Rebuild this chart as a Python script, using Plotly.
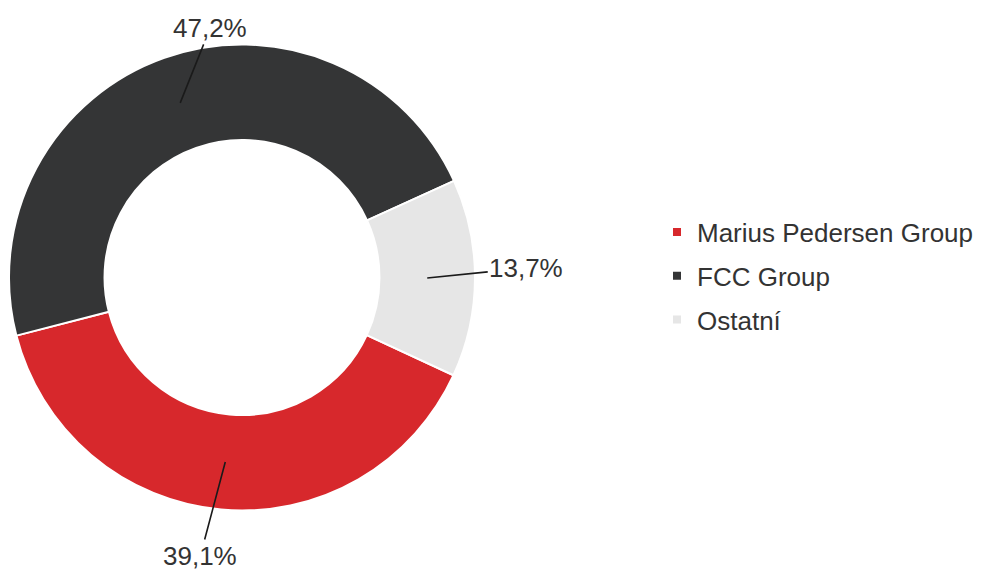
import math
import plotly.graph_objects as go

# ---- data ----
labels = ["Marius Pedersen Group", "FCC Group", "Ostatní"]
values = [39.1, 47.2, 13.7]
value_texts = ["39,1%", "47,2%", "13,7%"]
colors = ["#d7282c", "#343536", "#e6e6e6"]

# ---- layout constants ----
W, H = 983, 574
OFF = 8                       # browser body margin
ref_cx, ref_cy, ref_R = 242, 277.5, 233   # donut geometry in the reference (screen px)
cx, cy = ref_cx - OFF, ref_cy - OFF
hole = 0.59
rotation = 114.8              # first slice start (deg, clockwise from 12 o'clock)
label_offsets = [(-25, 94), (30, -75), (99, -10)]   # text offset (px) from ring point
font_family = "Liberation Sans, Arial, sans-serif"
text_color = "#333333"

fig = go.Figure()
fig.add_trace(go.Pie(
    labels=labels,
    values=values,
    hole=hole,
    sort=False,
    direction="clockwise",
    rotation=rotation,
    marker=dict(colors=colors, line=dict(color="white", width=2)),
    textinfo="none",
    hoverinfo="label+percent",
    showlegend=False,
    domain=dict(x=[(cx - ref_R) / W, (cx + ref_R) / W],
                y=[1 - (cy + ref_R) / H, 1 - (cy - ref_R) / H]),
))

# legend entries (dummy traces so spacing can be controlled)
for i, (lab, col) in enumerate(zip(labels, colors)):
    fig.add_trace(go.Scatter(
        x=[None], y=[None], mode="markers", name=lab,
        marker=dict(symbol="square", size=8, color=col),
        legendgroup=f"g{i}", showlegend=True,
    ))

# outside labels with leader lines, positioned from the data angles
r_mid = ref_R * (1 + hole) / 2
total = sum(values)
start = rotation
annotations = []
for v, t, (ox, oy) in zip(values, value_texts, label_offsets):
    span = v / total * 360
    mid = math.radians(start + span / 2)
    px = cx + r_mid * math.sin(mid)
    py = cy - r_mid * math.cos(mid)
    start += span
    annotations.append(dict(
        x=px / W, y=1 - py / H, xref="paper", yref="paper",
        text=t, showarrow=True, arrowhead=0, arrowwidth=1.6,
        arrowcolor="#1a1a1a", ax=ox, ay=oy, standoff=0,
        font=dict(size=26, color=text_color, family=font_family),
    ))

fig.update_layout(
    width=W, height=H,
    margin=dict(l=0, r=0, t=0, b=0),
    paper_bgcolor="white", plot_bgcolor="white",
    xaxis=dict(visible=False), yaxis=dict(visible=False),
    annotations=annotations,
    showlegend=True,
    legend=dict(
        x=(657 - OFF) / W, y=1 - (276 - OFF) / H, xanchor="left", yanchor="middle",
        font=dict(size=26, color=text_color, family=font_family),
        tracegroupgap=7, itemwidth=30,
        traceorder="grouped",
    ),
    font=dict(family=font_family, color=text_color),
)

fig.write_html("out.html")
